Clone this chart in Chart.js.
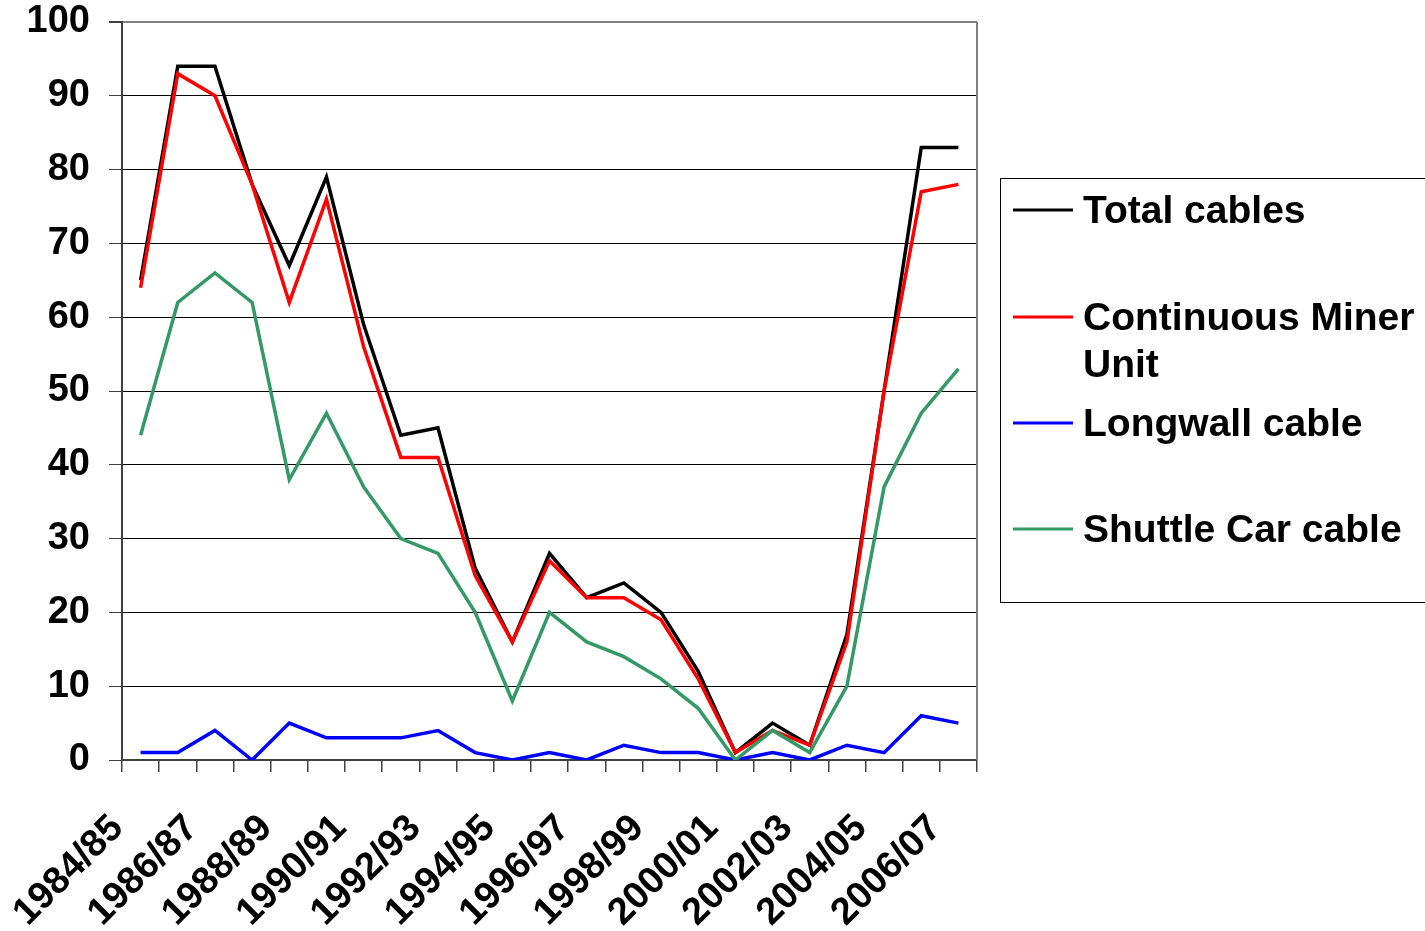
<!DOCTYPE html>
<html>
<head>
<meta charset="utf-8">
<title>Cables</title>
<script src="https://cdn.jsdelivr.net/npm/chart.js@4.4.1/dist/chart.umd.min.js"></script>
<style>
  html, body { margin: 0; padding: 0; background: #fff; }
  canvas { display: block; }
</style>
</head>
<body>
<canvas id="grafico" width="1425" height="931"></canvas>
<script>
const years = ['1984/85', '1985/86', '1986/87', '1987/88', '1988/89', '1989/90', '1990/91', '1991/92',
  '1992/93', '1993/94', '1994/95', '1995/96', '1996/97', '1997/98', '1998/99', '1999/00',
  '2000/01', '2001/02', '2002/03', '2003/04', '2004/05', '2005/06', '2006/07'];

const total    = [65, 94, 94, 78, 67, 79, 59, 44, 45, 26, 16, 28, 22, 24, 20, 12, 1, 5, 2, 17, 50, 83, 83];
const miner    = [64, 93, 90, 78, 62, 76, 56, 41, 41, 25, 16, 27, 22, 22, 19, 11, 1, 4, 2, 16, 50, 77, 78];
const longwall = [1, 1, 4, 0, 5, 3, 3, 3, 4, 1, 0, 1, 0, 2, 1, 1, 0, 1, 0, 2, 1, 6, 5];
const shuttle  = [44, 62, 66, 62, 38, 47, 37, 30, 28, 20, 8, 20, 16, 14, 11, 7, 0, 4, 1, 10, 37, 47, 53];

const names  = ['Total cables', 'Continuous Miner Unit', 'Longwall cable', 'Shuttle Car cable'];
const colors = ['#000000', '#ff0000', '#0000ff', '#339966'];

const FONT = "'Liberation Sans', Arial, sans-serif";

// legend box drawn by hand (Excel style, multi-line entry)
const legendBox = {
  id: 'legendBox',
  afterDraw(chart) {
    const ctx = chart.ctx;
    const area = chart.chartArea;
    ctx.save();
    // right border of plot area
    ctx.strokeStyle = '#808080';
    ctx.lineWidth = 2;
    ctx.beginPath();
    ctx.moveTo(area.right, area.top);
    ctx.lineTo(area.right, area.bottom);
    ctx.stroke();

    ctx.strokeStyle = '#000';
    ctx.lineWidth = 1;
    ctx.strokeRect(1000.5, 178.5, 600, 424);

    ctx.font = 'bold 39px ' + FONT;
    ctx.textBaseline = 'alphabetic';
    ctx.fillStyle = '#000';
    const rows = [210, 317, 423, 529];
    chart.data.datasets.forEach((ds, i) => {
      const y = rows[i];
      ctx.strokeStyle = ds.borderColor;
      ctx.lineWidth = 3;
      ctx.beginPath();
      ctx.moveTo(1013, y);
      ctx.lineTo(1073, y);
      ctx.stroke();
      // simple word wrap
      const words = ds.label.split(' ');
      const lines = [];
      let cur = '';
      words.forEach(w => {
        const test = cur ? cur + ' ' + w : w;
        if (ctx.measureText(test).width > 340 && cur) { lines.push(cur); cur = w; }
        else cur = test;
      });
      lines.push(cur);
      lines.forEach((t, k) => ctx.fillText(t, 1083, y + 13 + k * 47));
    });
    ctx.restore();
  }
};

new Chart(document.getElementById('grafico'), {
  type: 'line',
  data: {
    labels: years,
    datasets: [
      { label: names[0], data: total,    borderColor: colors[0], order: 4 },
      { label: names[1], data: miner,    borderColor: colors[1], order: 3 },
      { label: names[2], data: longwall, borderColor: colors[2], order: 2 },
      { label: names[3], data: shuttle,  borderColor: colors[3], order: 1 }
    ]
  },
  options: {
    responsive: false,
    animation: false,
    layout: { padding: { top: 22, right: 448, left: 0, bottom: 0 } },
    elements: {
      line: { borderWidth: 3.5, tension: 0, fill: false },
      point: { radius: 0, hoverRadius: 0 }
    },
    plugins: { legend: { display: false }, tooltip: { enabled: false } },
    scales: {
      x: {
        offset: true,
        afterFit: s => { s.height = 171; },
        grid: { offset: true, drawOnChartArea: false, drawTicks: true, tickLength: 12, color: '#404040', lineWidth: 1.5 },
        border: { color: '#404040', width: 2 },
        ticks: {
          autoSkip: false,
          maxRotation: 45,
          minRotation: 45,
          padding: 34,
          labelOffset: -23,
          color: '#000',
          font: { family: FONT, size: 38, weight: 'bold' },
          callback: function (v, i) { return i % 2 === 0 ? this.getLabelForValue(v) : ''; }
        }
      },
      y: {
        min: 0,
        max: 100,
        afterFit: s => { s.width = 122; s.paddingTop = 0; s.paddingBottom = 0; },
        grid: {
          color: c => (c.tick && c.tick.value === 100 ? '#808080' : '#000'),
          lineWidth: c => (c.tick && c.tick.value === 100 ? 2 : 1),
          tickColor: '#404040',
          tickLength: 13
        },
        border: { color: '#404040', width: 2 },
        ticks: {
          stepSize: 10,
          padding: 19,
          color: '#000',
          font: { family: FONT, size: 38, weight: 'bold' }
        }
      }
    }
  },
  plugins: [legendBox]
});
</script>
</body>
</html>
